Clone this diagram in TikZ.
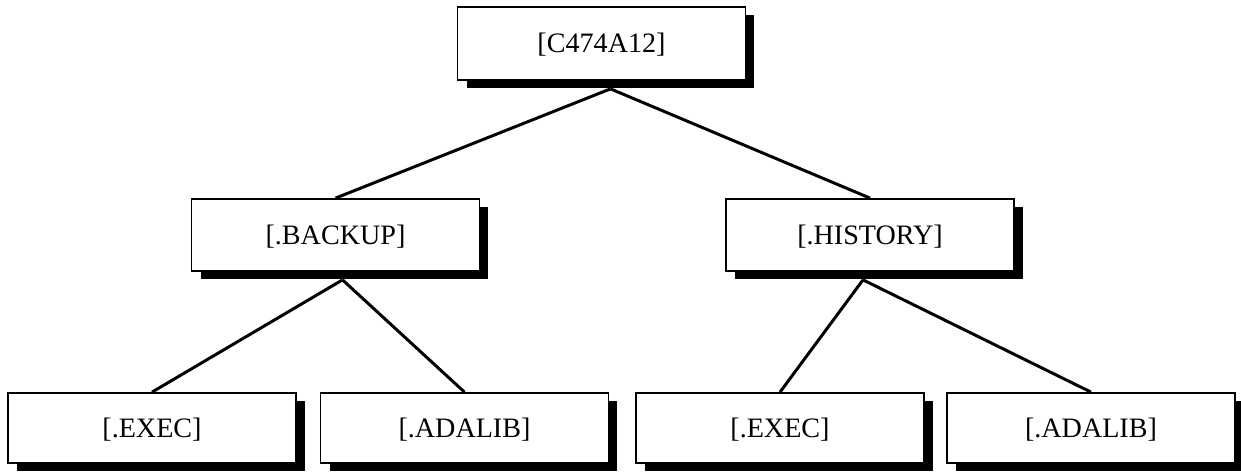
\documentclass[tikz,border=0pt]{standalone}
\usepackage{fontspec}
\setmainfont{Liberation Serif}
\usetikzlibrary{shadows,calc,backgrounds}
\begin{document}
\begin{tikzpicture}[x=0.02cm,y=-0.02cm,
  dirbox/.style={draw=black, line width=1pt, fill=white, minimum width=5.76cm, minimum height=1.44cm,
    inner sep=0pt, font=\fontsize{16}{19}\selectfont, text height=1.05em, text depth=0pt,
    drop shadow={shadow xshift=0.18cm, shadow yshift=-0.16cm, fill=black, opacity=1}},
  link/.style={line width=1.7pt}]
\useasboundingbox (0,0) rectangle (1241,472);
\node[dirbox, minimum height=1.46cm] (top) at (601.5,43.5) {[C474A12]};
\node[dirbox] (backup) at (335.5,235) {[.BACKUP]};
\node[dirbox] (history) at (870,235) {[.HISTORY]};
\node[dirbox, minimum height=1.40cm] (exec1) at (152,428) {[.EXEC]};
\node[dirbox, minimum height=1.40cm] (adalib1) at (464.5,428) {[.ADALIB]};
\node[dirbox, minimum height=1.40cm] (exec2) at (780,428) {[.EXEC]};
\node[dirbox, minimum height=1.40cm] (adalib2) at (1091,428) {[.ADALIB]};
\coordinate (topS) at ($(top.south)+(9,8)$);
\coordinate (backupS) at ($(backup.south)+(7,8)$);
\coordinate (historyS) at ($(history.south)+(-7,8)$);
\begin{scope}[on background layer]
\draw[link] (topS) -- (backup.north);
\draw[link] (topS) -- (history.north);
\draw[link] (backupS) -- (exec1.north);
\draw[link] (backupS) -- (adalib1.north);
\draw[link] (historyS) -- (exec2.north);
\draw[link] (historyS) -- (adalib2.north);
\end{scope}
\end{tikzpicture}
\end{document}
